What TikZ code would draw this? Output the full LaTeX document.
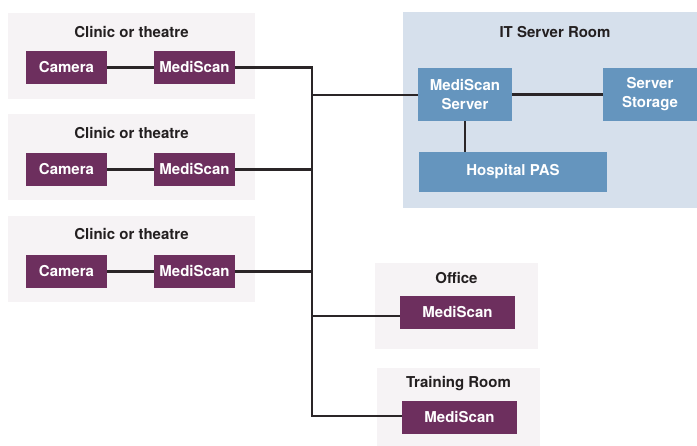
\documentclass[tikz,border=0pt]{standalone}
\usepackage{fontspec}
\setmainfont{TeX Gyre Heros}
\definecolor{purp}{HTML}{6D2F5E}
\definecolor{steel}{HTML}{6595BE}
\definecolor{itbg}{HTML}{D6E0EC}
\definecolor{roombg}{HTML}{F6F3F5}
\definecolor{ink}{HTML}{231F20}
\definecolor{wire}{HTML}{2A2527}
\begin{document}
\begin{tikzpicture}[x=1pt,y=-1pt,
  lbl/.style={font=\bfseries\fontsize{15}{19}\selectfont},
  room/.style={fill=roombg, draw=none, inner sep=0pt, anchor=north west},
  itroom/.style={fill=itbg, draw=none, inner sep=0pt, anchor=north west},
  title/.style={lbl, text=ink, inner sep=0pt},
  pbox/.style={lbl, fill=purp, text=white, inner sep=0pt, minimum height=33pt},
  bbox/.style={lbl, fill=steel, text=white, inner sep=0pt, align=center},
  wireline/.style={draw=wire, line width=2.3pt}
]
\useasboundingbox (0,0) rectangle (697,446);
% rooms
\node[room, minimum width=247pt, minimum height=86pt] (r1) at (8,13) {};
\node[room, minimum width=247pt, minimum height=86pt] (r2) at (8,114) {};
\node[room, minimum width=247pt, minimum height=86pt] (r3) at (8,216) {};
\node[itroom, minimum width=294pt, minimum height=196pt] (it) at (403,12) {};
\node[room, minimum width=163pt, minimum height=86pt] (off) at (375,263) {};
\node[room, minimum width=163pt, minimum height=78pt] (tr) at (377,368) {};
% titles
\node[title] (t1) at (131.5,32) {Clinic or theatre};
\node[title] (t2) at (131.5,133) {Clinic or theatre};
\node[title] (t3) at (131.5,234) {Clinic or theatre};
\node[title] (tit) at (555,32) {IT Server Room};
\node[title] (toff) at (456.5,278) {Office};
\node[title] (ttr) at (458.5,383.5) {Training Room};
% clinic devices
\node[pbox, minimum width=81pt] (c1) at (66.5,67.5) {Camera};
\node[pbox, minimum width=81pt] (m1) at (194.5,67.5) {MediScan};
\node[pbox, minimum width=81pt] (c2) at (66.5,169.5) {Camera};
\node[pbox, minimum width=81pt] (m2) at (194.5,169.5) {MediScan};
\node[pbox, minimum width=81pt] (c3) at (66.5,271.5) {Camera};
\node[pbox, minimum width=81pt] (m3) at (194.5,271.5) {MediScan};
% office & training
\node[pbox, minimum width=115pt] (mo) at (457.5,312.5) {MediScan};
\node[pbox, minimum width=115pt] (mt) at (459.5,417.5) {MediScan};
% server room
\node[bbox, minimum width=94pt, minimum height=53pt] (srv) at (465,94.5) {MediScan\\Server};
\node[bbox, minimum width=94pt, minimum height=53pt] (sto) at (650,94.5) {Server\\Storage};
\node[bbox, minimum width=188pt, minimum height=40pt] (pas) at (513,172) {Hospital PAS};
% bus coordinates
\coordinate (btop) at (312,67.5);
\coordinate (bsrv) at (312,95);
\coordinate (boff) at (312,316);
\coordinate (bbot) at (312,416);
% wires
\draw[wireline] (c1) -- (m1);
\draw[wireline] (c2) -- (m2);
\draw[wireline] (c3) -- (m3);
\draw[wireline] (m1.east) -- (btop) -- (bbot) -- (bbot -| mt.west);
\draw[wireline] (m2.east) -- (m2.east -| btop);
\draw[wireline] (m3.east) -- (m3.east -| btop);
\draw[wireline] (bsrv) -- (bsrv -| srv.west);
\draw[wireline] (boff) -- (boff -| mo.west);
\draw[wireline] (srv) -- (sto);
\draw[wireline] (srv.south) -- (srv.south |- pas.north);
\end{tikzpicture}
\end{document}
